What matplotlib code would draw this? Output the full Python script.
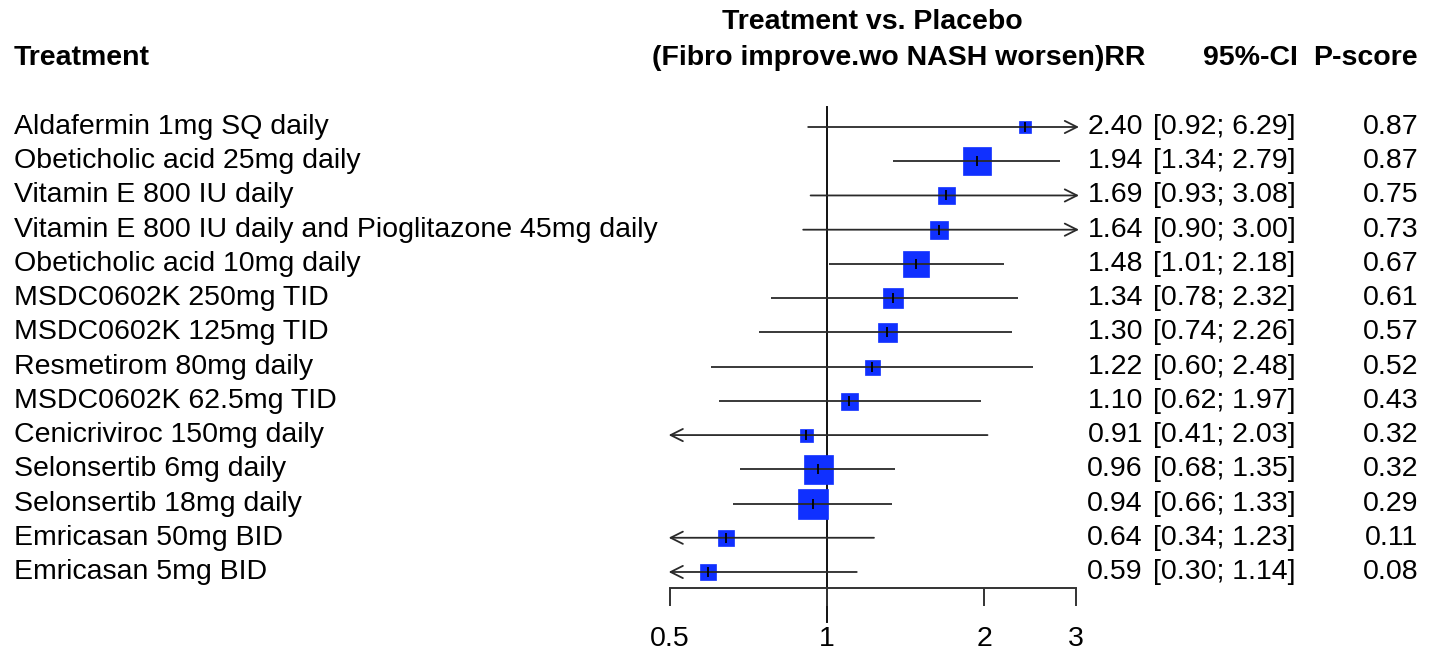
import numpy as np
import matplotlib
matplotlib.use("Agg")
import matplotlib.pyplot as plt
from matplotlib.transforms import blended_transform_factory

# Data
treatments = [
    "Aldafermin 1mg SQ daily",
    "Obeticholic acid 25mg daily",
    "Vitamin E 800 IU daily",
    "Vitamin E 800 IU daily and Pioglitazone 45mg daily",
    "Obeticholic acid 10mg daily",
    "MSDC0602K 250mg TID",
    "MSDC0602K 125mg TID",
    "Resmetirom 80mg daily",
    "MSDC0602K 62.5mg TID",
    "Cenicriviroc 150mg daily",
    "Selonsertib 6mg daily",
    "Selonsertib 18mg daily",
    "Emricasan 50mg BID",
    "Emricasan 5mg BID",
]
rr = [2.40, 1.94, 1.69, 1.64, 1.48, 1.34, 1.30, 1.22, 1.10, 0.91, 0.96, 0.94, 0.64, 0.59]
lower = [0.92, 1.34, 0.93, 0.90, 1.01, 0.78, 0.74, 0.60, 0.62, 0.41, 0.68, 0.66, 0.34, 0.30]
upper = [6.29, 2.79, 3.08, 3.00, 2.18, 2.32, 2.26, 2.48, 1.97, 2.03, 1.35, 1.33, 1.23, 1.14]
pscore = [0.87, 0.87, 0.75, 0.73, 0.67, 0.61, 0.57, 0.52, 0.43, 0.32, 0.32, 0.29, 0.11, 0.08]
weights = [12, 28, 17, 18, 26, 20, 19, 15, 17, 13, 29, 30, 16, 16]
xticks = [0.5, 1, 2, 3]
xticklabels = ["0.5", "1", "2", "3"]

plt.rcParams["font.family"] = ["Liberation Sans", "DejaVu Sans"]

W, H = 1438, 655
fig = plt.figure(figsize=(W / 100, H / 100), dpi=100)

# forest axes: 0.5 at x=670px, 3 at x=1076px; top y=107px, axis line y=588px
row_px0, row_step = 127, 34.23
ax = fig.add_axes([670 / W, 1 - 588 / H, (1076 - 670) / W, (588 - 107) / H])
ax.set_xscale("log")
ax.set_xlim(0.5, 3)
ax.set_ylim((588 - row_px0) / row_step, (107 - row_px0) / row_step)
for s in ["top", "right", "left"]:
    ax.spines[s].set_visible(False)
ax.spines["bottom"].set_color("#333333")
ax.spines["bottom"].set_linewidth(1.4)
ax.set_yticks([])
ax.xaxis.set_minor_locator(matplotlib.ticker.NullLocator())
ax.set_xticks(xticks)
ax.set_xticklabels(xticklabels, fontsize=20.5)
ax.tick_params(axis="x", direction="out", length=13, width=1.4, color="#333333", pad=14)

# reference line at 1
y_bottom = (622 - row_px0) / row_step
y_top = (107 - row_px0) / row_step
ax.plot([1, 1], [y_top, y_bottom], color="#111111", lw=1.4, clip_on=False, zorder=1)

xmin, xmax = 0.5, 3.0
lo_tip, hi_tip = 0.497, 3.04
line_col = "#2a2a2a"
for i in range(len(treatments)):
    lo, hi = lower[i], upper[i]
    ax.plot(rr[i], i, marker="s", ms=weights[i] * 0.72, color="#1030ff",
            mec="#1030ff", mew=0.5, clip_on=False, zorder=2)
    left_cut = lo < xmin
    right_cut = hi >= xmax
    x0 = lo_tip if left_cut else lo
    x1 = hi_tip if right_cut else hi
    if left_cut or right_cut:
        style = "<->" if (left_cut and right_cut) else ("<-" if left_cut else "->")
        ax.annotate("", xy=(x1, i), xytext=(x0, i),
                    arrowprops=dict(arrowstyle=style, color=line_col, lw=1.3,
                                    mutation_scale=22, shrinkA=0, shrinkB=0),
                    annotation_clip=False, zorder=3)
    else:
        ax.plot([x0, x1], [i, i], color=line_col, lw=1.3, clip_on=False, zorder=3,
                solid_capstyle="butt")
    ax.plot(rr[i], i, marker="|", ms=7, color="black", mew=1.3, clip_on=False, zorder=4)

# text columns
tr = blended_transform_factory(fig.transFigure, ax.transData)
fs = 20.5
for i, name in enumerate(treatments):
    ax.text(14 / W, i, name, transform=tr, fontsize=fs, va="center", ha="left")
    ax.text(1143 / W, i, f"{rr[i]:.2f}", transform=tr, fontsize=fs, va="center", ha="right")
    ax.text(1153 / W, i, f"[{lower[i]:.2f}; {upper[i]:.2f}]", transform=tr,
            fontsize=fs, va="center", ha="left")
    ax.text(1418 / W, i, f"{pscore[i]:.2f}", transform=tr, fontsize=fs, va="center", ha="right")

# headers
hs = 20.5
fig.text(14 / W, 1 - 58 / H, "Treatment", fontsize=hs, fontweight="bold", va="center", ha="left")
fig.text(872 / W, 1 - 22 / H, "Treatment vs. Placebo", fontsize=hs, fontweight="bold",
         va="center", ha="center")
fig.text(1145 / W, 1 - 58 / H, "(Fibro improve.wo NASH worsen)RR", fontsize=hs,
         fontweight="bold", va="center", ha="right")
fig.text(1298 / W, 1 - 58 / H, "95%-CI", fontsize=hs, fontweight="bold", va="center", ha="right")
fig.text(1418 / W, 1 - 58 / H, "P-score", fontsize=hs, fontweight="bold", va="center", ha="right")

fig.savefig("out.png", dpi=100, facecolor="white")
